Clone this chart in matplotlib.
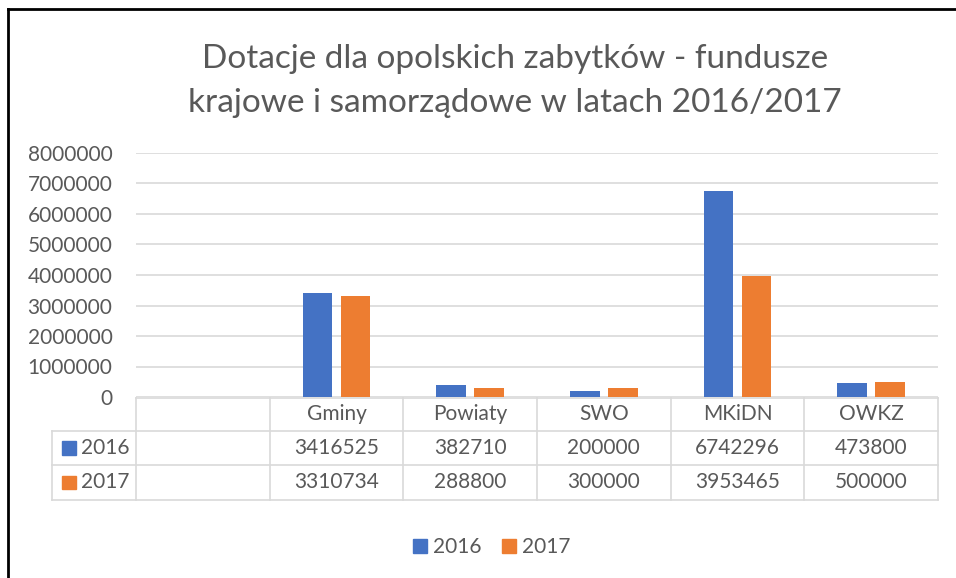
import matplotlib
matplotlib.use("Agg")
import matplotlib.pyplot as plt
from matplotlib.lines import Line2D
from matplotlib.patches import Patch, Rectangle
from matplotlib.transforms import blended_transform_factory

plt.rcParams['font.family'] = ['Lato', 'DejaVu Sans']

categories = ["", "Gminy", "Powiaty", "SWO", "MKiDN", "OWKZ"]
series_names = ["2016", "2017"]
values_2016 = [None, 3416525, 382710, 200000, 6742296, 473800]
values_2017 = [None, 3310734, 288800, 300000, 3953465, 500000]
yticks = [0, 1000000, 2000000, 3000000, 4000000, 5000000, 6000000, 7000000, 8000000]
title_lines = ["Dotacje dla opolskich zabytków - fundusze",
               "krajowe i samorządowe w latach 2016/2017"]

colors = ["#4472C4", "#ED7D31"]
txt = "#595959"
grid = "#D9D9D9"

W, H = 956, 578
fig = plt.figure(figsize=(W / 100, H / 100), dpi=100)

def fx(px):
    return px / W

def fy(py):
    return 1 - py / H

ax_left, ax_right, ax_top, ax_bot = 136, 938, 153, 397
ax = fig.add_axes([fx(ax_left), fy(ax_bot), fx(ax_right - ax_left), fy(ax_top) - fy(ax_bot)])

n = len(categories)
bw = 0.224
off = 0.142
for s, (vals, col) in enumerate(zip([values_2016, values_2017], colors)):
    xs = [i + (off if s else -off) for i, v in enumerate(vals) if v is not None]
    ys = [v for v in vals if v is not None]
    ax.bar(xs, ys, width=bw, color=col, zorder=3)

fs = 15
ax.set_xlim(-0.5, n - 0.5)
ax.set_ylim(0, 8000000)
ax.set_yticks(yticks)
ax.set_yticklabels([str(t) for t in yticks], color=txt, fontsize=fs)
ax.tick_params(axis='y', length=0, pad=17)
ax.set_xticks([])
for sp in ax.spines.values():
    sp.set_visible(False)
ax.grid(axis='y', color=grid, lw=1.2, zorder=0)
ax.set_axisbelow(True)

# data table
tr = blended_transform_factory(ax.transData, fig.transFigure)
row_y = [398, 431, 465, 500]
lw = 1.2
fig.add_artist(Line2D([-0.5, n - 0.5], [fy(row_y[0])] * 2, transform=tr, color=grid, lw=lw))
for yy in row_y[1:]:
    fig.add_artist(Line2D([fx(52), fx(ax_right)], [fy(yy)] * 2, transform=fig.transFigure, color=grid, lw=lw))
for i in range(n + 1):
    fig.add_artist(Line2D([i - 0.5, i - 0.5], [fy(row_y[0]), fy(row_y[3])], transform=tr, color=grid, lw=lw))
fig.add_artist(Line2D([fx(52)] * 2, [fy(row_y[1]), fy(row_y[3])], transform=fig.transFigure, color=grid, lw=lw))

for i, c in enumerate(categories):
    ax.text(i, fy((row_y[0] + row_y[1]) / 2), c, transform=tr, ha='center', va='center', color=txt, fontsize=fs)
for r, vals in enumerate([values_2016, values_2017]):
    yc = fy((row_y[r + 1] + row_y[r + 2]) / 2)
    for i, v in enumerate(vals):
        if v is not None:
            ax.text(i, yc, str(v), transform=tr, ha='center', va='center', color=txt, fontsize=fs)
    fig.add_artist(Rectangle((fx(62), yc - 0.012), fx(14), 0.024, transform=fig.transFigure, color=colors[r]))
    fig.text(fx(81), yc, series_names[r], ha='left', va='center', color=txt, fontsize=fs)

# title
for k, (line, yy) in enumerate(zip(title_lines, [59, 103])):
    fig.text(fx(515), fy(yy), line, ha='center', va='center', color=txt, fontsize=24)

# legend
handles = [Patch(color=c, label=s) for c, s in zip(colors, series_names)]
fig.legend(handles=handles, loc='center', bbox_to_anchor=(fx(492), fy(547)), ncol=2, frameon=False,
           fontsize=fs, labelcolor=txt, handlelength=0.65, handleheight=0.65, handletextpad=0.3,
           columnspacing=1.0)

# outer border (top and left)
fig.add_artist(Line2D([fx(8), 1], [fy(9), fy(9)], transform=fig.transFigure, color='black', lw=2))
fig.add_artist(Line2D([fx(8), fx(8)], [fy(9), 0], transform=fig.transFigure, color='black', lw=2))

fig.savefig("out.png", dpi=100)
